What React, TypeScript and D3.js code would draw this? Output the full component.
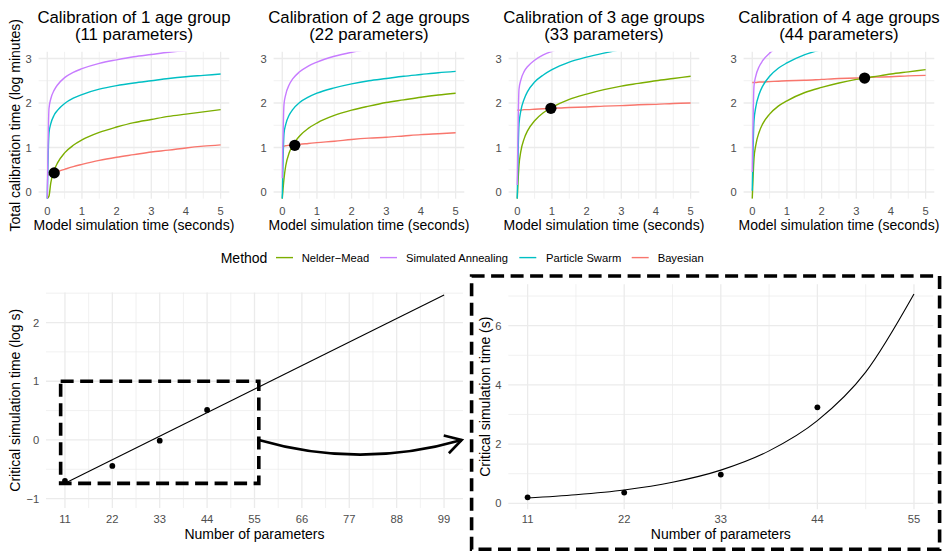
import React from 'react';
import * as d3 from 'd3';

// ---------- data ----------
const T_SECONDS = [0, 0.05, 0.1, 0.2, 0.3, 0.5, 0.75, 1, 1.5, 2, 2.5, 3, 3.5, 4, 4.5, 5];

// null = -Inf (log of zero), drawn at the panel's lower edge
const nelderMead: (number | null)[][] = [
  [null, -0.09, 0.2, 0.49, 0.66, 0.88, 1.05, 1.17, 1.34, 1.46, 1.56, 1.63, 1.7, 1.75, 1.8, 1.85],
  [null, 0.3, 0.59, 0.88, 1.05, 1.26, 1.43, 1.55, 1.72, 1.84, 1.93, 2.01, 2.07, 2.13, 2.18, 2.22],
  [null, 0.6, 0.9, 1.2, 1.38, 1.6, 1.78, 1.9, 2.08, 2.2, 2.3, 2.38, 2.44, 2.5, 2.55, 2.6],
  [null, 0.75, 1.05, 1.35, 1.53, 1.75, 1.93, 2.05, 2.23, 2.35, 2.45, 2.53, 2.59, 2.65, 2.7, 2.75],
];
const simulatedAnnealing: (number | null)[][] = [
  [null, 1.88, 2.09, 2.29, 2.41, 2.57, 2.69, 2.77, 2.89, 2.97, 3.04, 3.09, 3.14, 3.18, 3.21, 3.25],
  [0.31, 1.97, 2.19, 2.41, 2.54, 2.7, 2.83, 2.92, 3.05, 3.14, 3.21, 3.27, 3.32, 3.36, 3.4, 3.43],
  [0.16, 2.31, 2.51, 2.71, 2.82, 2.96, 3.08, 3.16, 3.27, 3.36, 3.42, 3.47, 3.51, 3.55, 3.58, 3.61],
  [0.45, 2.38, 2.6, 2.82, 2.95, 3.12, 3.25, 3.34, 3.47, 3.56, 3.63, 3.69, 3.74, 3.79, 3.82, 3.86],
];
const particleSwarm: (number | null)[][] = [
  [null, 1.33, 1.53, 1.73, 1.84, 1.99, 2.11, 2.19, 2.31, 2.39, 2.45, 2.5, 2.55, 2.59, 2.62, 2.65],
  [null, 1.31, 1.52, 1.73, 1.85, 2.01, 2.13, 2.22, 2.34, 2.43, 2.5, 2.55, 2.6, 2.64, 2.68, 2.71],
  [null, 1.53, 1.81, 2.09, 2.26, 2.47, 2.63, 2.75, 2.92, 3.03, 3.12, 3.2, 3.26, 3.32, 3.36, 3.41],
  [0.03, 1.6, 1.9, 2.2, 2.38, 2.6, 2.78, 2.9, 3.08, 3.2, 3.3, 3.38, 3.44, 3.5, 3.55, 3.6],
];
const bayesian: (number | null)[][] = [
  [0.37, 0.39, 0.4, 0.43, 0.46, 0.51, 0.57, 0.62, 0.71, 0.78, 0.84, 0.9, 0.94, 0.99, 1.03, 1.06],
  [1.03, 1.03, 1.04, 1.05, 1.06, 1.07, 1.09, 1.11, 1.14, 1.18, 1.21, 1.23, 1.26, 1.29, 1.31, 1.33],
  [1.84, 1.84, 1.84, 1.85, 1.85, 1.86, 1.87, 1.88, 1.9, 1.91, 1.93, 1.94, 1.96, 1.97, 1.99, 2.0],
  [2.46, 2.46, 2.46, 2.47, 2.47, 2.48, 2.49, 2.5, 2.51, 2.53, 2.55, 2.56, 2.58, 2.59, 2.61, 2.62],
];

const panelTitles = [
  'Calibration of 1 age group',
  'Calibration of 2 age groups',
  'Calibration of 3 age groups',
  'Calibration of 4 age groups',
];
const panelSubtitles = ['(11 parameters)', '(22 parameters)', '(33 parameters)', '(44 parameters)'];

const paramCounts = [11, 22, 33, 44];
const criticalTime = [0.2, 0.36, 0.97, 3.24]; // seconds
const criticalTotal = [0.43, 1.05, 1.88, 2.56]; // log minutes at crossing

const fitLineN = [11, 99];
const fitLineLog = [-0.74, 2.47];
const fitCurveN = [11, 16.5, 22, 27.5, 33, 38.5, 44, 49.5, 55];
const fitCurveTime = [0.18, 0.29, 0.45, 0.71, 1.12, 1.77, 2.79, 4.43, 7.07];

const zoomRectN = [10, 56];
const zoomRectLog = [-0.74, 1.0];
const arrowN = [56, 79.5, 103.1]; // start, control, end
const arrowLog = [0, -0.5, 0];

const methodNames = ['Nelder\u2212Mead', 'Simulated Annealing', 'Particle Swarm', 'Bayesian'];
const methodColors = ['#7CAE00', '#C77CFF', '#00BFC4', '#F8766D'];

const topXTicks = [0, 1, 2, 3, 4, 5];
const topYTicks = [0, 1, 2, 3];
const leftXTicks = [11, 22, 33, 44, 55, 66, 77, 88, 99];
const leftYTicks = [-1, 0, 1, 2];
const rightXTicks = [11, 22, 33, 44, 55];
const rightYTicks = [0, 2, 4, 6];

// ---------- styling ----------
const FONT = '"Liberation Sans", Arial, Helvetica, sans-serif';
const GRID = '#EBEBEB';
const TICK_COL = '#4D4D4D';
const TICK_SIZE = 11.2;
const TITLE_SIZE = 14;

function minorOf(ticks: number[], domain: number[]) {
  const step = ticks[1] - ticks[0];
  const out: number[] = [];
  for (let i = -1; i < ticks.length; i++) {
    const v = ticks[0] + step * i + step / 2;
    if (v >= domain[0] && v <= domain[1]) out.push(v);
  }
  return out;
}

function Grid({ x, y, xt, yt }: any) {
  const [x0, x1] = x.range();
  const [y0, y1] = y.range();
  const xm = minorOf(xt, x.domain());
  const ym = minorOf(yt, y.domain());
  return (
    <g>
      {xm.map((v: number) => (
        <line key={'xm' + v} x1={x(v)} x2={x(v)} y1={y0} y2={y1} stroke={GRID} strokeWidth={0.7} />
      ))}
      {ym.map((v: number) => (
        <line key={'ym' + v} y1={y(v)} y2={y(v)} x1={x0} x2={x1} stroke={GRID} strokeWidth={0.7} />
      ))}
      {xt.map((v: number) => (
        <line key={'x' + v} x1={x(v)} x2={x(v)} y1={y0} y2={y1} stroke={GRID} strokeWidth={1.3} />
      ))}
      {yt.map((v: number) => (
        <line key={'y' + v} y1={y(v)} y2={y(v)} x1={x0} x2={x1} stroke={GRID} strokeWidth={1.3} />
      ))}
    </g>
  );
}

function fmt(v: number) {
  return v < 0 ? '\u2212' + Math.abs(v) : String(v);
}

function TopPanel({ k }: { k: number }) {
  const left = 38.6 + 235 * k;
  const x = d3.scaleLinear().domain([-0.25, 5.25]).range([left, left + 190.7]);
  const y = d3.scaleLinear().domain([-0.15, 3.15]).range([198.7, 51.8]);
  const yMin = y.domain()[0];
  const line = d3
    .line<[number, number | null]>()
    .x((d) => x(d[0]))
    .y((d) => y(d[1] === null ? yMin : d[1]))
    .curve(d3.curveMonotoneX);
  const series = [bayesian[k], nelderMead[k], particleSwarm[k], simulatedAnnealing[k]];
  const colors = ['#F8766D', '#7CAE00', '#00BFC4', '#C77CFF'];
  const cx = (x.range()[0] + x.range()[1]) / 2;
  const cy = (y.range()[0] + y.range()[1]) / 2;
  const clipId = 'clip-top-' + k;
  return (
    <g>
      <defs>
        <clipPath id={clipId}>
          <rect x={x.range()[0]} y={y.range()[1]} width={x.range()[1] - x.range()[0]} height={y.range()[0] - y.range()[1]} />
        </clipPath>
      </defs>
      <Grid x={x} y={y} xt={topXTicks} yt={topYTicks} />
      <g clipPath={`url(#${clipId})`}>
        {series.map((s, i) => (
          <path
            key={i}
            d={line(T_SECONDS.map((t, j) => [t, s[j]]) as any) || ''}
            fill="none"
            stroke={colors[i]}
            strokeWidth={1.4}
          />
        ))}
      </g>
      <circle cx={x(criticalTime[k])} cy={y(criticalTotal[k])} r={5.6} fill="#000" />
      {topXTicks.map((v) => (
        <text key={'xl' + v} x={x(v)} y={214.8} textAnchor="middle" fontSize={TICK_SIZE} fill={TICK_COL}>
          {fmt(v)}
        </text>
      ))}
      {topYTicks.map((v) => (
        <text key={'yl' + v} x={x.range()[0] - 6.8} y={y(v)} dy="0.36em" textAnchor="end" fontSize={TICK_SIZE} fill={TICK_COL}>
          {fmt(v)}
        </text>
      ))}
      <text x={cx} y={23.2} textAnchor="middle" fontSize={16.8} fill="#000">
        {panelTitles[k]}
      </text>
      <text x={cx} y={40.4} textAnchor="middle" fontSize={16.8} fill="#000">
        {panelSubtitles[k]}
      </text>
      <text x={cx} y={230} textAnchor="middle" fontSize={TITLE_SIZE} fill="#000">
        Model simulation time (seconds)
      </text>
      {k === 0 && (
        <text transform={`translate(20,${cy}) rotate(-90)`} textAnchor="middle" fontSize={TITLE_SIZE} fill="#000">
          Total calibration time (log minutes)
        </text>
      )}
    </g>
  );
}

function Legend() {
  const cy = 257.6;
  const keyX = [276, 380, 519.3, 631.7];
  const labelX = [301.7, 406, 546, 657.7];
  return (
    <g>
      <text x={220.7} y={263.2} fontSize={14} fill="#000">
        Method
      </text>
      {methodNames.map((m, i) => (
        <g key={m}>
          <line x1={keyX[i]} x2={keyX[i] + 17} y1={cy} y2={cy} stroke={methodColors[i]} strokeWidth={1.4} />
          <text x={labelX[i]} y={261.6} fontSize={11.2} fill="#000">
            {m}
          </text>
        </g>
      ))}
    </g>
  );
}

function LeftPlot() {
  const x = d3.scaleLinear().domain([6.6, 103.4]).range([46, 463]);
  const y = d3.scaleLinear().domain([-1.16, 2.51]).range([508, 292.6]);
  const line = d3
    .line<number>()
    .x((_, i) => x(fitLineN[i]))
    .y((d) => y(d));
  const logCrit = criticalTime.map((t) => Math.log10(t));
  const rx0 = x(zoomRectN[0]);
  const rx1 = x(zoomRectN[1]);
  const ry0 = y(zoomRectLog[1]);
  const ry1 = y(zoomRectLog[0]);
  // arrow
  const p0 = [x(arrowN[0]), y(arrowLog[0])];
  const pc = [x(arrowN[1]), y(arrowLog[1])];
  const p2 = [x(arrowN[2]), y(arrowLog[2])];
  const path = d3.path();
  path.moveTo(p0[0], p0[1]);
  path.quadraticCurveTo(pc[0], pc[1], p2[0], p2[1]);
  const ang = Math.atan2(pc[1] - p2[1], pc[0] - p2[0]);
  const L = 18.5;
  const a1 = ang + (30 * Math.PI) / 180;
  const a2 = ang - (30 * Math.PI) / 180;
  const head = `M${p2[0] + L * Math.cos(a1)},${p2[1] + L * Math.sin(a1)}L${p2[0]},${p2[1]}L${p2[0] + L * Math.cos(a2)},${p2[1] + L * Math.sin(a2)}`;
  const cx = (x.range()[0] + x.range()[1]) / 2;
  const cy = (y.range()[0] + y.range()[1]) / 2;
  return (
    <g>
      <Grid x={x} y={y} xt={leftXTicks} yt={leftYTicks} />
      <path d={line(fitLineLog) || ''} fill="none" stroke="#000" strokeWidth={1.1} />
      {logCrit.map((v, i) => (
        <circle key={i} cx={x(paramCounts[i])} cy={y(v)} r={2.9} fill="#000" />
      ))}
      <rect x={rx0} y={ry0} width={rx1 - rx0} height={ry1 - ry0} fill="none" stroke="#000" strokeWidth={3.6} strokeDasharray="13 6.5" />
      <path d={path.toString()} fill="none" stroke="#000" strokeWidth={2.6} />
      <path d={head} fill="none" stroke="#000" strokeWidth={2.6} strokeLinejoin="miter" />
      {leftXTicks.map((v) => (
        <text key={'xl' + v} x={x(v)} y={523.3} textAnchor="middle" fontSize={TICK_SIZE} fill={TICK_COL}>
          {fmt(v)}
        </text>
      ))}
      {leftYTicks.map((v) => (
        <text key={'yl' + v} x={x.range()[0] - 6.7} y={y(v)} dy="0.36em" textAnchor="end" fontSize={TICK_SIZE} fill={TICK_COL}>
          {fmt(v)}
        </text>
      ))}
      <text x={cx} y={539.3} textAnchor="middle" fontSize={TITLE_SIZE} fill="#000">
        Number of parameters
      </text>
      <text transform={`translate(20,${cy}) rotate(-90)`} textAnchor="middle" fontSize={TITLE_SIZE} fill="#000">
        Critical simulation time (log s)
      </text>
    </g>
  );
}

function RightPlot() {
  const x = d3.scaleLinear().domain([8.8, 57.2]).range([508.3, 933.3]);
  const y = d3.scaleLinear().domain([-0.2, 7.4]).range([509.2, 284.2]);
  const line = d3
    .line<number>()
    .x((_, i) => x(fitCurveN[i]))
    .y((d) => y(d))
    .curve(d3.curveMonotoneX);
  const cx = (x.range()[0] + x.range()[1]) / 2;
  const cy = (y.range()[0] + y.range()[1]) / 2;
  return (
    <g>
      <rect x={471.6} y={276} width={468} height={273.4} fill="none" stroke="#000" strokeWidth={3.6} strokeDasharray="13 6.5" />
      <Grid x={x} y={y} xt={rightXTicks} yt={rightYTicks} />
      <path d={line(fitCurveTime) || ''} fill="none" stroke="#000" strokeWidth={1.1} />
      {criticalTime.map((v, i) => (
        <circle key={i} cx={x(paramCounts[i])} cy={y(v)} r={2.9} fill="#000" />
      ))}
      {rightXTicks.map((v) => (
        <text key={'xl' + v} x={x(v)} y={523.3} textAnchor="middle" fontSize={TICK_SIZE} fill={TICK_COL}>
          {fmt(v)}
        </text>
      ))}
      {rightYTicks.map((v) => (
        <text key={'yl' + v} x={x.range()[0] - 6.7} y={y(v)} dy="0.36em" textAnchor="end" fontSize={TICK_SIZE} fill={TICK_COL}>
          {fmt(v)}
        </text>
      ))}
      <text x={cx} y={539.3} textAnchor="middle" fontSize={TITLE_SIZE} fill="#000">
        Number of parameters
      </text>
      <text transform={`translate(490,${cy}) rotate(-90)`} textAnchor="middle" fontSize={TITLE_SIZE} fill="#000">
        Critical simulation time (s)
      </text>
    </g>
  );
}

export default function App() {
  return (
    <svg
      width={948}
      height={551}
      viewBox="0 0 948 551"
      style={{ position: 'absolute', left: 0, top: 0, background: '#fff' }}
      fontFamily={FONT}
    >
      <rect width={948} height={551} fill="#fff" />
      {[0, 1, 2, 3].map((k) => (
        <TopPanel key={k} k={k} />
      ))}
      <Legend />
      <LeftPlot />
      <RightPlot />
    </svg>
  );
}
